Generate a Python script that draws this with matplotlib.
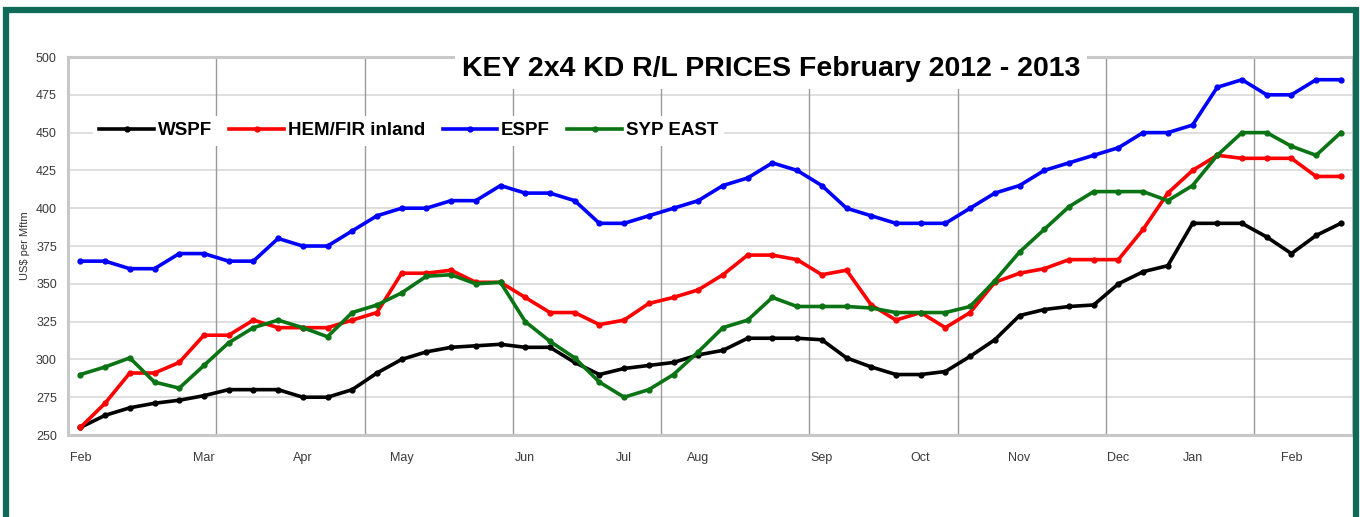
import numpy as np
import matplotlib
matplotlib.use("Agg")
import matplotlib.pyplot as plt
from matplotlib.patches import Rectangle

plt.rcParams['font.family'] = ['Liberation Sans', 'DejaVu Sans']

# weekly prices, Feb 2012 - Feb 2013 (US$ per Mfbm)
wspf = [255, 263, 268, 271, 273, 276, 280, 280, 280, 275, 275, 280, 291, 300,
        305, 308, 309, 310, 308, 308, 298, 290, 294, 296, 298, 303, 306, 314,
        314, 314, 313, 301, 295, 290, 290, 292, 302, 313, 329, 333, 335, 336,
        350, 358, 362, 390, 390, 390, 381, 370, 382, 390]
hemfir = [255, 271, 291, 291, 298, 316, 316, 326, 321, 321, 321, 326, 331, 357,
          357, 359, 351, 351, 341, 331, 331, 323, 326, 337, 341, 346, 356, 369,
          369, 366, 356, 359, 336, 326, 331, 321, 331, 351, 357, 360, 366, 366,
          366, 386, 410, 425, 435, 433, 433, 433, 421, 421]
espf = [365, 365, 360, 360, 370, 370, 365, 365, 380, 375, 375, 385, 395, 400,
        400, 405, 405, 415, 410, 410, 405, 390, 390, 395, 400, 405, 415, 420,
        430, 425, 415, 400, 395, 390, 390, 390, 400, 410, 415, 425, 430, 435,
        440, 450, 450, 455, 480, 485, 475, 475, 485, 485]
syp_east = [290, 295, 301, 285, 281, 296, 311, 321, 326, 321, 315, 331, 336, 344,
            355, 356, 350, 351, 325, 312, 301, 285, 275, 280, 290, 305, 321, 326,
            341, 335, 335, 335, 334, 331, 331, 331, 335, 352, 371, 386, 401, 411,
            411, 411, 405, 415, 435, 450, 450, 441, 435, 450]

month_pos = [0, 5, 9, 13, 18, 22, 25, 30, 34, 38, 42, 45, 49]
month_labels = ['Feb', 'Mar', 'Apr', 'May', 'Jun', 'Jul', 'Aug', 'Sep', 'Oct',
                'Nov', 'Dec', 'Jan', 'Feb']

series = [('WSPF', wspf, 'black'),
          ('HEM/FIR inland', hemfir, '#ff0000'),
          ('ESPF', espf, '#0000ff'),
          ('SYP EAST', syp_east, '#0a7414')]

fig = plt.figure(figsize=(13.6, 5.17), dpi=100)
ax = fig.add_axes([0.05, 0.1586, 0.945, 0.7311])

x = np.arange(len(wspf))
for name, vals, col in series:
    ax.plot(x, vals, color=col, lw=2.6, marker='o', ms=3.5, label=name, zorder=3)

ax.set_xlim(-0.5, len(wspf) - 0.5)
ax.set_ylim(250, 500)
ax.set_yticks(np.arange(250, 501, 25))
ax.set_xticks(month_pos)
ax.set_xticklabels(month_labels)
ax.tick_params(axis='both', length=0, labelsize=9, colors='#3a3a3a')
ax.tick_params(axis='x', pad=12)
ax.tick_params(axis='y', pad=8)

for yv in np.arange(275, 500, 25):
    ax.axhline(yv, color='#dcdcdc', lw=1.3, zorder=1)
for xv in np.arange(5.5, len(wspf) - 1, 6):
    ax.axvline(xv, color='#9a9a9a', lw=1.0, zorder=1)

for s in ax.spines.values():
    s.set_color('#c8c8c8')
    s.set_linewidth(2.2)

ax.set_ylabel('US$ per Mftm', fontsize=8, color='#333333', labelpad=4)

leg = ax.legend(loc='upper left', bbox_to_anchor=(0.012, 0.87), ncol=4,
                frameon=True, fancybox=False, framealpha=1.0, edgecolor='none',
                facecolor='white', fontsize=13.5, handlelength=2.9,
                columnspacing=0.95, handletextpad=0.2, borderpad=0.35)
for t in leg.get_texts():
    t.set_fontweight('bold')
leg.set_zorder(5)

fig.text(0.567, 0.866, 'KEY 2x4 KD R/L PRICES February 2012 - 2013',
         ha='center', va='center', fontsize=20.5, fontweight='bold',
         bbox=dict(facecolor='white', edgecolor='none', pad=5), zorder=6)

# outer green frame
fig.patches.append(Rectangle((0.0045, -0.05), 0.9925, 1.03, transform=fig.transFigure,
                             fill=False, edgecolor='#0f6b58', lw=4.5, zorder=10))

fig.savefig('out.png', dpi=100)
